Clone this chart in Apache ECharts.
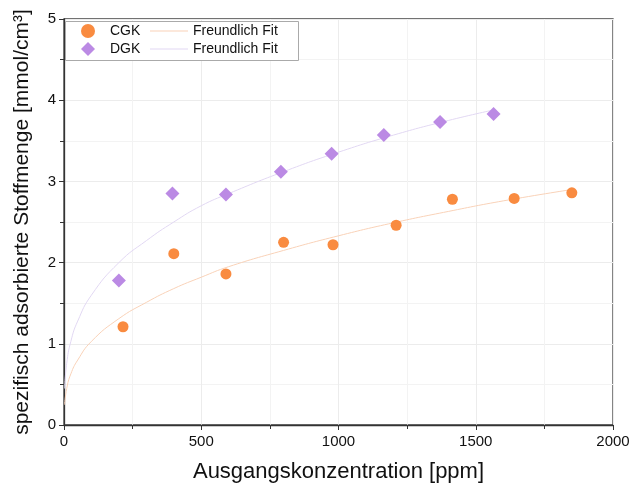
<!DOCTYPE html>
<html>
<head>
<meta charset="utf-8">
<script src="https://cdn.jsdelivr.net/npm/echarts@6/dist/echarts.min.js"></script>
<style>
  html, body { margin: 0; padding: 0; background: #fff; }
  #chart { width: 633px; height: 491px; }
</style>
</head>
<body>
<div id="chart"></div>
<script>
// Messwerte
var cgkX = [215, 400, 590, 800, 980, 1210, 1415, 1640, 1850];
var cgkY = [1.21, 2.11, 1.86, 2.25, 2.22, 2.46, 2.78, 2.79, 2.86];
var dgkX = [200, 395, 590, 790, 975, 1165, 1370, 1565];
var dgkY = [1.78, 2.85, 2.84, 3.12, 3.34, 3.57, 3.73, 3.83];

// Freundlich-Fit
var cgkFitX = [2, 10, 25, 50, 100, 200, 300, 400, 500, 600, 800, 1000, 1200, 1400, 1600, 1850];
var cgkFitY = [0.25, 0.45, 0.63, 0.80, 1.03, 1.31, 1.51, 1.68, 1.82, 1.95, 2.15, 2.33, 2.49, 2.63, 2.76, 2.90];
var dgkFitX = [2, 10, 25, 50, 100, 200, 300, 400, 500, 600, 800, 1000, 1200, 1400, 1565];
var dgkFitY = [0.45, 0.76, 1.03, 1.28, 1.60, 2.00, 2.27, 2.50, 2.70, 2.85, 3.12, 3.36, 3.57, 3.75, 3.88];

var xTicks = [0, 500, 1000, 1500, 2000];
var yTicks = [0, 1, 2, 3, 4, 5];

function pairs(xs, ys) {
  return xs.map(function (x, i) { return [x, ys[i]]; });
}

var chart = echarts.init(document.getElementById('chart'));

var axisLine = { lineStyle: { color: '#333', width: 1.3 } };
var font = 'Liberation Sans, Arial, sans-serif';

var iconDiamond = 'path://M0,5L5,0L10,5L5,10Z';
var iconLine = 'path://M0,0L40,0L40,1L0,1Z';
var legendText = { fontSize: 14, color: '#111', fontFamily: font, lineHeight: 16 };

var option = {
  animation: false,
  textStyle: { fontFamily: font },
  grid: {
    left: 64, right: 20, top: 19, bottom: 66,
    show: true,
    borderColor: '#444',
    borderWidth: 1.3
  },
  graphic: [{
    type: 'rect',
    left: 65, top: 21,
    shape: { width: 233, height: 39 },
    style: { fill: '#fff', stroke: '#aaa', lineWidth: 1 },
    z: 5
  }],
  legend: [
    {
      orient: 'vertical',
      left: 81, top: 23,
      itemWidth: 14, itemHeight: 14,
      itemGap: 2,
      padding: 0,
      symbolKeepAspect: true,
      textStyle: Object.assign({ padding: [0, 0, 0, 10], lineHeight: 14 }, legendText),
      data: [
        { name: 'CGK', icon: 'circle', itemStyle: { color: '#f98b40' } },
        { name: 'DGK', icon: iconDiamond }
      ],
      z: 10
    },
    {
      orient: 'vertical',
      left: 150, top: 23,
      itemWidth: 38, itemHeight: 14,
      itemGap: 2,
      padding: 0,
      symbolKeepAspect: true,
      textStyle: legendText,
      formatter: function (n) { return n.trim(); },
      data: [
        { name: 'Freundlich Fit ', icon: iconLine },
        { name: 'Freundlich Fit', icon: iconLine }
      ],
      z: 10
    }
  ],
  xAxis: {
    type: 'value',
    min: xTicks[0], max: xTicks[xTicks.length - 1], interval: 500,
    name: 'Ausgangskonzentration [ppm]',
    nameLocation: 'middle', nameGap: 36,
    nameTextStyle: { fontSize: 22, color: '#111' },
    axisLine: axisLine,
    axisTick: { show: true, length: 5, inside: false, lineStyle: { color: '#333' } },
    minorTick: { show: true, splitNumber: 2, length: 4, lineStyle: { color: '#333' } },
    axisLabel: { fontSize: 15, color: '#111', margin: 9, formatter: function (v) { return String(v); } },
    splitLine: { show: true, lineStyle: { color: '#ececec', width: 1 } },
    minorSplitLine: { show: true, lineStyle: { color: '#f3f3f3', width: 1 } }
  },
  yAxis: {
    type: 'value',
    min: yTicks[0], max: yTicks[yTicks.length - 1], interval: 1,
    name: 'spezifisch adsorbierte Stoffmenge [mmol/cm³]',
    nameLocation: 'middle', nameGap: 31,
    nameTextStyle: { fontSize: 21, color: '#111' },
    axisLine: axisLine,
    axisTick: { show: true, length: 5, lineStyle: { color: '#333' } },
    minorTick: { show: true, splitNumber: 2, length: 4, lineStyle: { color: '#333' } },
    axisLabel: { fontSize: 15, color: '#111', margin: 8 },
    splitLine: { show: true, lineStyle: { color: '#ececec', width: 1 } },
    minorSplitLine: { show: true, lineStyle: { color: '#f3f3f3', width: 1 } }
  },
  series: [
    {
      name: 'Freundlich Fit ',
      type: 'line',
      smooth: true,
      symbol: 'none',
      data: pairs(cgkFitX, cgkFitY),
      lineStyle: { color: '#f9d2b8', width: 1 },
      itemStyle: { color: '#f9d2b8' },
      z: 1
    },
    {
      name: 'Freundlich Fit',
      type: 'line',
      smooth: true,
      symbol: 'none',
      data: pairs(dgkFitX, dgkFitY),
      lineStyle: { color: '#e2d8f3', width: 1 },
      itemStyle: { color: '#e2d8f3' },
      z: 1
    },
    {
      name: 'CGK',
      type: 'scatter',
      symbol: 'circle',
      symbolSize: 11,
      data: pairs(cgkX, cgkY),
      itemStyle: { color: '#f98b40', opacity: 1 },
      z: 3
    },
    {
      name: 'DGK',
      type: 'scatter',
      symbol: 'diamond',
      symbolSize: 14,
      data: pairs(dgkX, dgkY),
      itemStyle: { color: '#bb8ae4', opacity: 1 },
      z: 3
    }
  ]
};

chart.setOption(option);
</script>
</body>
</html>
